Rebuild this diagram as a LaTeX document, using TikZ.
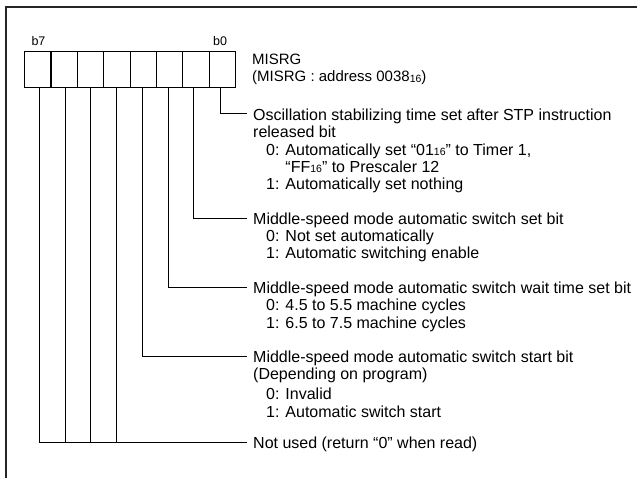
\documentclass[tikz,border=0pt]{standalone}
\usepackage{fontspec}
\setmainfont{Liberation Sans}
\newcommand{\mainsz}{\fontsize{16}{17}\selectfont}
\newcommand{\regsz}{\fontsize{15}{16}\selectfont}
\newcommand{\bitsz}{\fontsize{12.5}{13}\selectfont}
\newcommand{\sixteen}{\raisebox{-0.8pt}{\fontsize{10.5}{10.5}\selectfont 16}}
\begin{document}
\begin{tikzpicture}[x=1pt,y=1pt,
  frame/.style={line width=2pt, black!85},
  cellbox/.style={draw, line width=1.2pt, minimum width=26.35pt, minimum height=36pt, inner sep=0pt},
  conn/.style={line width=1pt},
  lbl/.style={anchor=base west, inner sep=0pt, font=\mainsz},
  reg/.style={anchor=base west, inner sep=0pt, font=\regsz},
  bitlbl/.style={anchor=base, inner sep=0pt, font=\bitsz}]
\useasboundingbox (0,0) rectangle (637,-478);
\draw[frame] (637,-7) -- (6,-7) -- (6,-478);
% register cells (bit 7 at left)
\node[cellbox] (c7) at (37.875,-69.7) {};
\node[cellbox] (c6) at (64.225,-69.7) {};
\node[cellbox] (c5) at (90.575,-69.7) {};
\node[cellbox] (c4) at (116.925,-69.7) {};
\node[cellbox] (c3) at (143.275,-69.7) {};
\node[cellbox] (c2) at (169.625,-69.7) {};
\node[cellbox] (c1) at (195.975,-69.7) {};
\node[cellbox] (c0) at (222.325,-69.7) {};
\node[bitlbl] (lb7) at (38.5,-45.7) {b7};
\node[bitlbl] (lb0) at (220,-45.7) {b0};
\node[reg] (r1) at (252,-65) {MISRG};
\node[reg] (r2) at (252,-81.7) {(MISRG : address 0038\sixteen)};
% line start points on the bottom of the cells
\coordinate (p0) at (220,-87.7);
\coordinate (p1) at (193.5,-87.7);
\coordinate (p2) at (168,-87.7);
\coordinate (p3) at (142.5,-87.7);
\coordinate (p4) at (116,-87.7);
\coordinate (p5) at (90,-87.7);
\coordinate (p6) at (65,-87.7);
\coordinate (p7) at (39.5,-87.7);
% line end points
\coordinate (e0) at (247,-114);
\coordinate (e1) at (247,-218.3);
\coordinate (e2) at (247,-287.3);
\coordinate (e3) at (247,-356.3);
\coordinate (e4) at (247,-442);
% texts
\node[lbl] (t0a) at (253,-120.7) {Oscillation stabilizing time set after STP instruction};
\node[lbl] (t0b) at (253,-137.7) {released bit};
\node[lbl] (t0c) at (266,-155.2) {0: Automatically set “01\sixteen” to Timer 1,};
\node[lbl] (t0d) at (266,-172.2) {\phantom{0: }“FF\sixteen” to Prescaler 12};
\node[lbl] (t0e) at (266,-189.2) {1: Automatically set nothing};
\node[lbl] (t1a) at (253,-224.5) {Middle-speed mode automatic switch set bit};
\node[lbl] (t1b) at (266,-241.7) {0: Not set automatically};
\node[lbl] (t1c) at (266,-259) {1: Automatic switching enable};
\node[lbl] (t2a) at (253,-293.6) {Middle-speed mode automatic switch wait time set bit};
\node[lbl] (t2b) at (266,-310.9) {0: 4.5 to 5.5 machine cycles};
\node[lbl] (t2c) at (266,-328.2) {1: 6.5 to 7.5 machine cycles};
\node[lbl] (t3a) at (253,-362.7) {Middle-speed mode automatic switch start bit};
\node[lbl] (t3b) at (253,-379.6) {(Depending on program)};
\node[lbl] (t3c) at (266,-399) {0: Invalid};
\node[lbl] (t3d) at (266,-417.4) {1: Automatic switch start};
\node[lbl] (t4) at (253,-448.4) {Not used (return “0” when read)};
% connectors
\draw[conn] (p0) |- (e0);
\draw[conn] (p1) |- (e1);
\draw[conn] (p2) |- (e2);
\draw[conn] (p3) |- (e3);
\draw[conn] (p4) -- (p4 |- e4);
\draw[conn] (p5) -- (p5 |- e4);
\draw[conn] (p6) -- (p6 |- e4);
\draw[conn] (p7) |- (e4);
\end{tikzpicture}
\end{document}
